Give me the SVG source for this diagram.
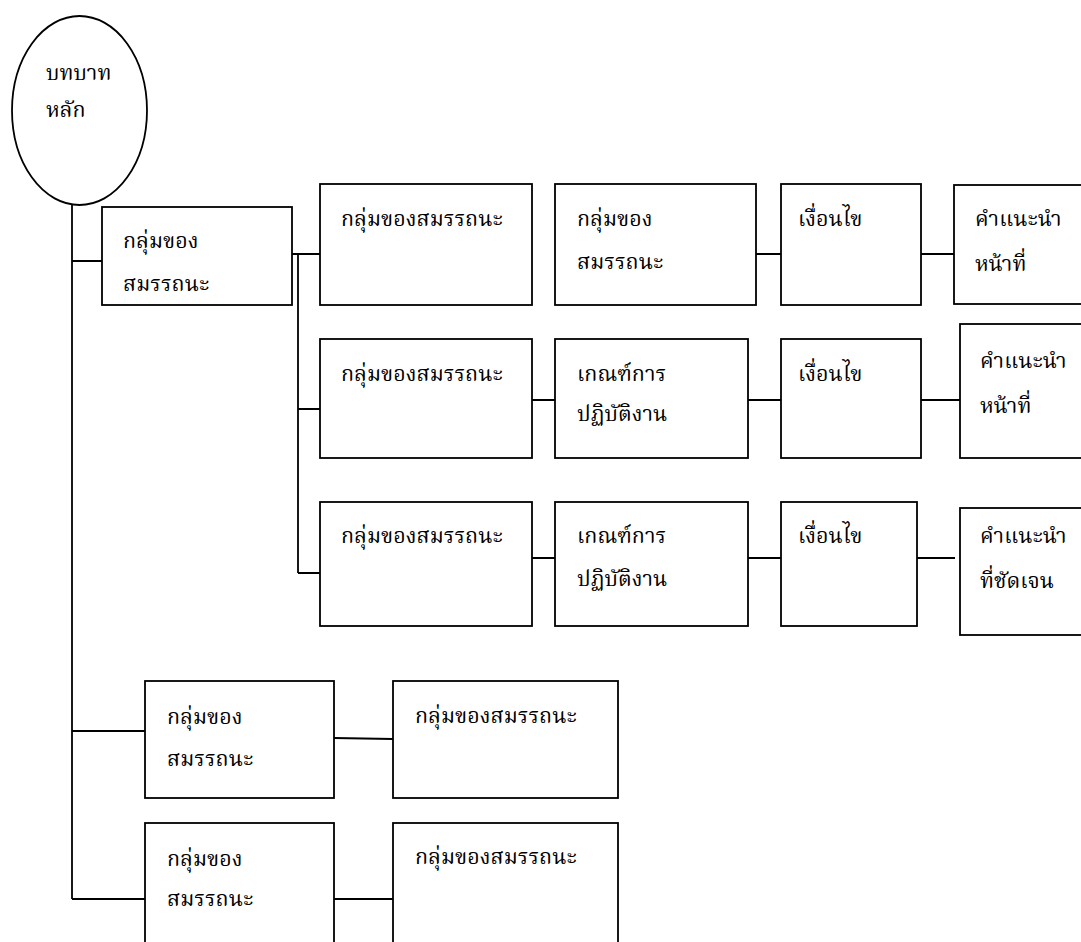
<svg xmlns="http://www.w3.org/2000/svg" width="1081" height="942" viewBox="0 0 1081 942">
<style>
.n{fill:#fff;stroke:#000;stroke-width:1.8}
.t{font-family:"Liberation Serif","Noto Serif Thai","Noto Sans Thai",serif;font-size:21.5px;fill:#000}
.c{stroke:#000;stroke-width:1.8;fill:none}
</style>
<rect width="1081" height="942" fill="#fff"/>
<g id="connectors">
<path class="c" d="M72 205V899M72 261H102M72 731H145M72 899H145"/>
<path class="c" d="M292 254H320M298 254V573M298 409H320M298 573H320"/>
<path class="c" d="M756 254H781M921 254H954"/>
<path class="c" d="M532 400H555M748 400H781M921 400H960"/>
<path class="c" d="M532 558H555M748 558H781M917 558H955"/>
<path class="c" d="M334 738L393 739M334 899H393"/>
</g>
<g id="root"><ellipse class="n" cx="79.5" cy="110.5" rx="67.5" ry="94.5"/><text class="t" x="46" y="80">บทบาท</text><text class="t" x="46" y="117">หลัก</text></g>
<g id="g1"><rect class="n" x="102" y="207" width="190" height="98"/><text class="t" x="123" y="248">กลุ่มของ</text><text class="t" x="123" y="291">สมรรถนะ</text></g>
<g id="r1a"><rect class="n" x="320" y="184" width="212" height="121"/><text class="t" x="341" y="226">กลุ่มของสมรรถนะ</text></g>
<g id="r1b"><rect class="n" x="555" y="184" width="201" height="121"/><text class="t" x="577" y="226">กลุ่มของ</text><text class="t" x="577" y="269">สมรรถนะ</text></g>
<g id="r1c"><rect class="n" x="781" y="184" width="140" height="121"/><text class="t" x="798" y="226">เงื่อนไข</text></g>
<g id="r1d"><rect class="n" x="954" y="185" width="140" height="119"/><text class="t" x="975" y="226">คำแนะนำ</text><text class="t" x="975" y="271">หน้าที่</text></g>
<g id="r2a"><rect class="n" x="320" y="339" width="212" height="119"/><text class="t" x="341" y="381">กลุ่มของสมรรถนะ</text></g>
<g id="r2b"><rect class="n" x="555" y="339" width="193" height="119"/><text class="t" x="577" y="381">เกณฑ์การ</text><text class="t" x="577" y="421">ปฏิบัติงาน</text></g>
<g id="r2c"><rect class="n" x="781" y="339" width="140" height="119"/><text class="t" x="798" y="381">เงื่อนไข</text></g>
<g id="r2d"><rect class="n" x="960" y="324" width="140" height="134"/><text class="t" x="980" y="368">คำแนะนำ</text><text class="t" x="980" y="413">หน้าที่</text></g>
<g id="r3a"><rect class="n" x="320" y="502" width="212" height="124"/><text class="t" x="341" y="543">กลุ่มของสมรรถนะ</text></g>
<g id="r3b"><rect class="n" x="555" y="502" width="193" height="124"/><text class="t" x="577" y="543">เกณฑ์การ</text><text class="t" x="577" y="586">ปฏิบัติงาน</text></g>
<g id="r3c"><rect class="n" x="781" y="502" width="136" height="124"/><text class="t" x="798" y="543">เงื่อนไข</text></g>
<g id="r3d"><rect class="n" x="960" y="508" width="140" height="127"/><text class="t" x="980" y="543">คำแนะนำ</text><text class="t" x="980" y="588">ที่ชัดเจน</text></g>
<g id="g2"><rect class="n" x="145" y="681" width="189" height="117"/><text class="t" x="167" y="724">กลุ่มของ</text><text class="t" x="167" y="766">สมรรถนะ</text></g>
<g id="g2a"><rect class="n" x="393" y="681" width="225" height="117"/><text class="t" x="415" y="723">กลุ่มของสมรรถนะ</text></g>
<g id="g3"><rect class="n" x="145" y="823" width="189" height="140"/><text class="t" x="167" y="866">กลุ่มของ</text><text class="t" x="167" y="906">สมรรถนะ</text></g>
<g id="g3a"><rect class="n" x="393" y="823" width="225" height="140"/><text class="t" x="415" y="864">กลุ่มของสมรรถนะ</text></g>
</svg>
